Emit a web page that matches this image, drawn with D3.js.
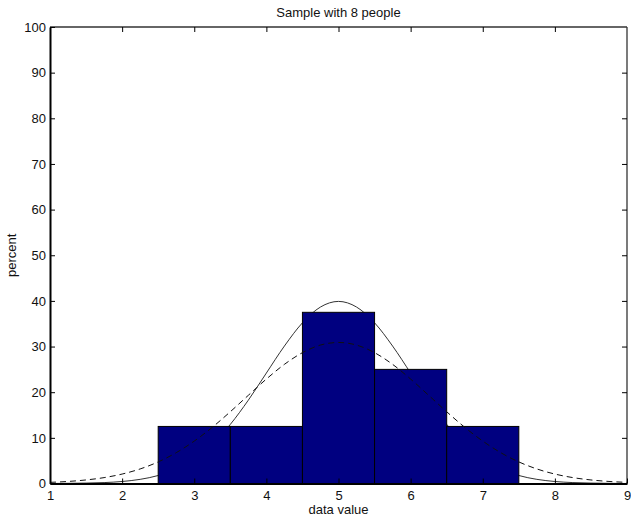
<!DOCTYPE html>
<html>
<head>
<meta charset="utf-8">
<script src="https://cdn.jsdelivr.net/npm/d3@7"></script>
<style>
  html, body { margin: 0; padding: 0; background: #fff; }
  svg { display: block; }
  text { font-family: "Liberation Sans", Arial, Helvetica, sans-serif; fill: #111; }
</style>
</head>
<body>
<svg id="chart" width="631" height="517"></svg>
<script>
// Histogram categories (bin centres) and percentage of people in each bin
const binCenters = [3, 4, 5, 6, 7];
const binPercent = [12.5, 12.5, 37.5, 25, 12.5];

// Fitted curves sampled along the x axis
const curveX = [1, 1.25, 1.5, 1.75, 2, 2.25, 2.5, 2.75, 3, 3.25, 3.5, 3.75, 4, 4.25, 4.5, 4.75, 5,
                5.25, 5.5, 5.75, 6, 6.25, 6.5, 6.75, 7, 7.25, 7.5, 7.75, 8, 8.25, 8.5, 8.75, 9];
const solidCurve = [0.0, 0.04, 0.09, 0.2, 0.44, 0.91, 1.75, 3.17, 5.4, 8.63, 12.95, 18.26, 24.2, 30.11, 35.2, 38.66, 39.89,
                    38.66, 35.2, 30.11, 24.2, 18.26, 12.95, 8.63, 5.4, 3.17, 1.75, 0.91, 0.44, 0.2, 0.09, 0.04, 0.0];
const dashedCurve = [0.25, 0.45, 0.78, 1.29, 2.07, 3.19, 4.73, 6.75, 9.29, 12.31, 15.72, 19.32, 22.88, 26.1, 28.66, 30.33, 30.9,
                     30.33, 28.66, 26.1, 22.88, 19.32, 15.72, 12.31, 9.29, 6.75, 4.73, 3.19, 2.07, 1.29, 0.78, 0.45, 0.25];

// Axis ticks
const xTicks = [1, 2, 3, 4, 5, 6, 7, 8, 9];
const yTicks = [0, 10, 20, 30, 40, 50, 60, 70, 80, 90, 100];

const titleText = "Sample with 8 people";
const xLabel = "data value";
const yLabel = "percent";

const svg = d3.select("#chart");
const plotLeft = 50, plotRight = 627, plotTop = 27, plotBottom = 483.5;
const fontSize = "13px";

const x = d3.scaleLinear().domain([1, 9]).range([plotLeft, plotRight]);
const y = d3.scaleLinear().domain([0, 100]).range([plotBottom, plotTop]);

const g = svg.append("g");

// Solid curve sits beneath the bars
const line = d3.line().x((d, i) => x(curveX[i])).y(d => y(d)).curve(d3.curveMonotoneX);

g.append("path")
  .attr("d", line(solidCurve))
  .attr("fill", "none")
  .attr("stroke", "#333")
  .attr("stroke-width", 1);

// Bars, one unit wide, centred on each bin
g.selectAll("rect.bar")
  .data(binCenters)
  .join("rect")
  .attr("class", "bar")
  .attr("x", d => x(d - 0.5))
  .attr("width", d => x(d + 0.5) - x(d - 0.5))
  .attr("y", (d, i) => y(binPercent[i]))
  .attr("height", (d, i) => y(0) - y(binPercent[i]))
  .attr("fill", "#000080")
  .attr("stroke", "#000")
  .attr("stroke-width", 1);

// Dashed curve drawn over the bars
g.append("path")
  .attr("d", line(dashedCurve))
  .attr("fill", "none")
  .attr("stroke", "#111")
  .attr("stroke-width", 1)
  .attr("stroke-dasharray", "6,4");

// Frame
svg.append("line").attr("x1", plotLeft).attr("x2", plotRight).attr("y1", plotTop).attr("y2", plotTop)
  .attr("stroke", "#333").attr("stroke-width", 1.3);
svg.append("line").attr("x1", plotRight).attr("x2", plotRight).attr("y1", plotTop).attr("y2", plotBottom)
  .attr("stroke", "#333").attr("stroke-width", 1.3);

// Axes with inward ticks
const tickLen = 5;
const xAxisBottom = d3.axisBottom(x).tickValues(xTicks).tickSizeInner(-tickLen).tickSizeOuter(0).tickPadding(7);
const xAxisTop = d3.axisTop(x).tickValues(xTicks.slice(1, -1)).tickSizeInner(-tickLen).tickSizeOuter(0).tickFormat("");
const yAxisLeft = d3.axisLeft(y).tickValues(yTicks).tickSizeInner(-tickLen).tickSizeOuter(0).tickPadding(4);
const yAxisRight = d3.axisRight(y).tickValues(yTicks.slice(1, -1)).tickSizeInner(-tickLen).tickSizeOuter(0).tickFormat("");

function styleAxis(sel, w) {
  sel.select(".domain").attr("stroke", "#000").attr("stroke-width", w);
  sel.selectAll(".tick line").attr("stroke", "#000").attr("stroke-width", 1);
  sel.selectAll(".tick text")
    .style("font-family", '"Liberation Sans", Arial, Helvetica, sans-serif')
    .style("font-size", fontSize).attr("fill", "#111");
}

svg.append("g").attr("transform", `translate(0,${plotTop})`).call(xAxisTop).call(s => styleAxis(s, 0)).select(".domain").remove();
svg.append("g").attr("transform", `translate(${plotRight},0)`).call(yAxisRight).call(s => styleAxis(s, 0)).select(".domain").remove();
svg.append("g").attr("transform", `translate(0,${plotBottom})`).call(xAxisBottom).call(s => styleAxis(s, 2));
svg.append("g").attr("transform", `translate(${plotLeft},0)`).call(yAxisLeft).call(s => styleAxis(s, 2));

// Titles
svg.append("text").attr("x", (plotLeft + plotRight) / 2).attr("y", 17)
  .attr("text-anchor", "middle").style("font-size", fontSize).text(titleText);
svg.append("text").attr("x", (plotLeft + plotRight) / 2).attr("y", 514)
  .attr("text-anchor", "middle").style("font-size", fontSize).text(xLabel);
svg.append("text").attr("transform", `translate(16,${(plotTop + plotBottom) / 2}) rotate(-90)`)
  .attr("text-anchor", "middle").style("font-size", fontSize).text(yLabel);
</script>
</body>
</html>
